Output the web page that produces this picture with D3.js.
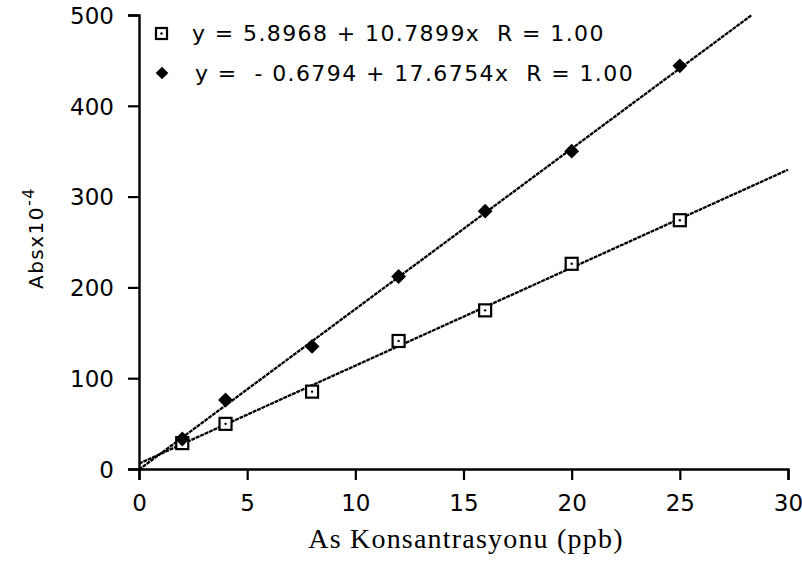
<!DOCTYPE html>
<html>
<head>
<meta charset="utf-8">
<script src="https://cdn.jsdelivr.net/npm/d3@7.9.0/dist/d3.min.js"></script>
<style>
  body { margin: 0; background: #fff; }
  text { fill: #000; white-space: pre; }
</style>
</head>
<body>
<div id="vis"></div>
<script>
const width = 802, height = 569;
const margin = { top: 15, right: 14, bottom: 98, left: 139 };

// concentrations (ppb)
const conc = [2, 4, 8, 12, 16, 20, 25];
// Abs x10^-4, square series
const absSquare = [28.5, 49.7, 85.2, 141, 174.7, 226, 274];
// Abs x10^-4, diamond series
const absDiamond = [33, 76, 135, 212, 284, 350, 444];

const intercepts = [5.8968, -0.6794];
const slopes = [10.7899, 17.6754];
const legendLabels = [
  "y = 5.8968 + 10.7899x  R = 1.00",
  "y =  - 0.6794 + 17.6754x  R = 1.00"
];

const xTicks = [0, 5, 10, 15, 20, 25, 30];
const yTicks = [0, 100, 200, 300, 400, 500];

const x = d3.scaleLinear().domain([0, 30]).range([margin.left, width - margin.right]);
const y = d3.scaleLinear().domain([0, 500]).range([height - margin.bottom - 2, margin.top]);

const svg = d3.select("#vis").append("svg")
  .attr("width", width)
  .attr("height", height)
  .attr("viewBox", `0 0 ${width} ${height}`);

// fitted lines
const fits = intercepts.map((b, i) => {
  const xEnd = Math.min(30, (500 - b) / slopes[i]);
  return [[0, b], [xEnd, b + slopes[i] * xEnd]];
});
svg.append("g").selectAll("path")
  .data(fits)
  .enter().append("path")
  .attr("d", d3.line().x(d => x(d[0])).y(d => y(d[1])))
  .attr("fill", "none")
  .attr("stroke", "#000")
  .attr("stroke-width", 2.3)
  .attr("stroke-dasharray", "4,0.8");

// axes
const fontTick = "DejaVu Sans, sans-serif";
const xAxis = svg.append("g").attr("transform", `translate(0,${y(0)})`);
xAxis.call(d3.axisBottom(x).tickValues(d3.range(0, 30.1, 2.5)).tickSize(6).tickFormat(""));
xAxis.call(d3.axisBottom(x).tickValues(xTicks).tickSize(11).tickPadding(15).tickFormat(d3.format("d")));
xAxis.selectAll("path, line").attr("stroke", "#000").attr("stroke-width", 2.2);
xAxis.selectAll("text").attr("font-family", fontTick).attr("font-size", 23).attr("fill", "#000");

const yAxis = svg.append("g").attr("transform", `translate(${x(0)},0)`);
yAxis.call(d3.axisLeft(y).tickValues(d3.range(0, 501, 50)).tickSize(6).tickFormat(""));
yAxis.call(d3.axisLeft(y).tickValues(yTicks).tickSize(11).tickPadding(14).tickFormat(d3.format("d")));
yAxis.selectAll("path, line").attr("stroke", "#000").attr("stroke-width", 2.2);
yAxis.selectAll("text").attr("font-family", fontTick).attr("font-size", 23).attr("fill", "#000")
  .attr("dy", "0.36em");
svg.selectAll(".domain").attr("stroke-width", 2.4);

// markers
const diamond = d3.symbol().type(d3.symbolSquare).size(110);
const sq = svg.append("g");
sq.selectAll("rect")
  .data(conc)
  .enter().append("rect")
  .attr("x", d => x(d) - 6)
  .attr("y", (d, i) => y(absSquare[i]) - 6)
  .attr("width", 12).attr("height", 12)
  .attr("fill", "#fff").attr("stroke", "#000").attr("stroke-width", 2.2);
sq.selectAll("circle")
  .data(conc)
  .enter().append("circle")
  .attr("cx", d => x(d)).attr("cy", (d, i) => y(absSquare[i]))
  .attr("r", 1.2).attr("fill", "#000");

svg.append("g").selectAll("path")
  .data(conc)
  .enter().append("path")
  .attr("transform", (d, i) => `translate(${x(d)},${y(absDiamond[i])}) rotate(45)`)
  .attr("d", diamond)
  .attr("fill", "#000");

// legend
const legend = svg.append("g").attr("font-family", fontTick).attr("font-size", 22)
  .attr("letter-spacing", 1.4);
legend.append("rect").attr("x", 156).attr("y", 28).attr("width", 11).attr("height", 11)
  .attr("fill", "#fff").attr("stroke", "#000").attr("stroke-width", 2.2);
legend.append("circle").attr("cx", 161.5).attr("cy", 33.5).attr("r", 1.2).attr("fill", "#000");
legend.append("path").attr("transform", "translate(162,73) rotate(45)")
  .attr("d", d3.symbol().type(d3.symbolSquare).size(80)).attr("fill", "#000");
legend.append("text").attr("x", 192).attr("y", 41).text(legendLabels[0]);
legend.append("text").attr("x", 195).attr("y", 81).text(legendLabels[1]);

// axis titles
svg.append("text")
  .attr("x", 466).attr("y", 548)
  .attr("text-anchor", "middle")
  .attr("font-family", "Liberation Serif, serif")
  .attr("font-size", 28)
  .attr("letter-spacing", 1.2)
  .text("As Konsantrasyonu (ppb)");

const yTitle = svg.append("text")
  .attr("transform", "translate(43,238) rotate(-90)")
  .attr("text-anchor", "middle")
  .attr("font-family", fontTick)
  .attr("font-size", 20)
  .attr("letter-spacing", 1.5);
yTitle.append("tspan").text("Absx10");
yTitle.append("tspan").attr("dy", -9).attr("font-size", 16).text("-4");
</script>
</body>
</html>
